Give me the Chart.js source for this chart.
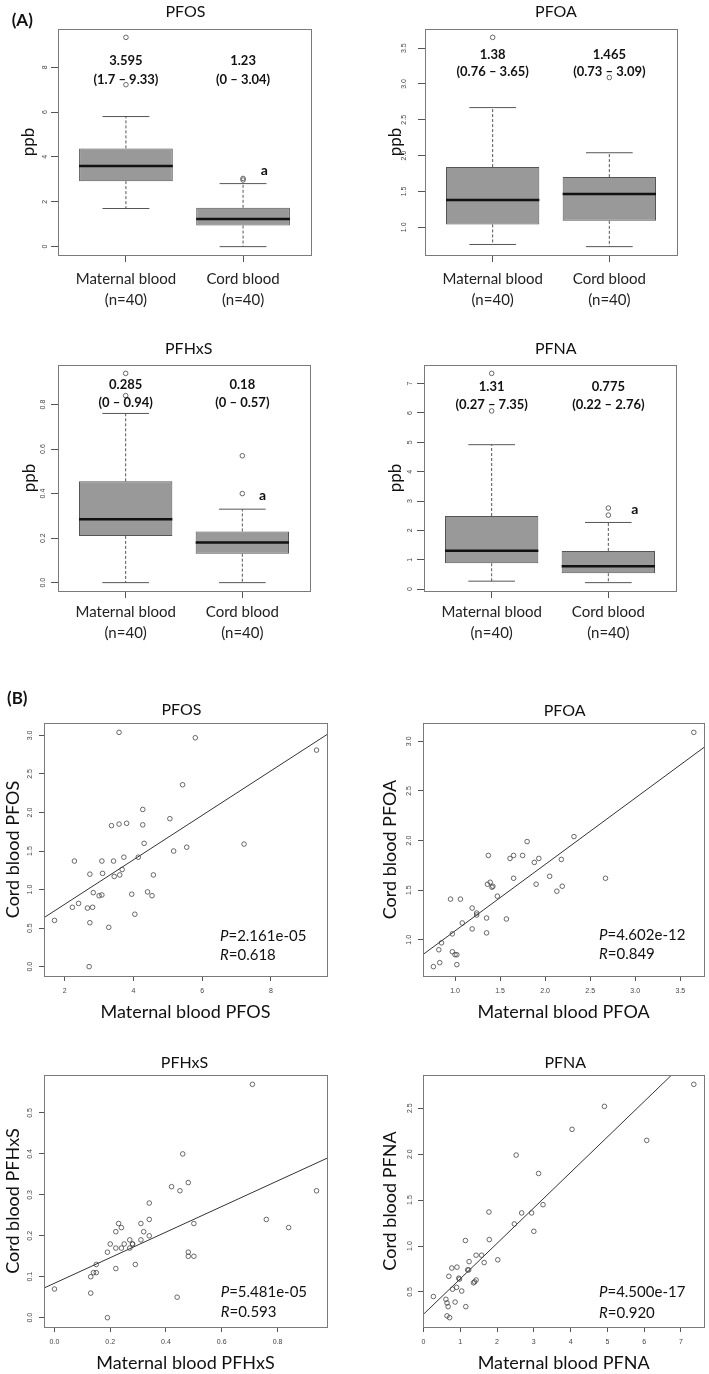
<!DOCTYPE html>
<html>
<head>
<meta charset="utf-8">
<script src="https://cdn.jsdelivr.net/npm/chart.js@4.4.1/dist/chart.umd.min.js"></script>
<style>
  body { margin: 0; background: #fff; }
  #page { position: relative; width: 709px; height: 1374px; overflow: hidden; }
  #page canvas { position: absolute; }
</style>
</head>
<body>
<div id="page">
  <canvas id="boxPfos"></canvas>
  <canvas id="boxPfoa"></canvas>
  <canvas id="boxPfhxs"></canvas>
  <canvas id="boxPfna"></canvas>
  <canvas id="corPfos"></canvas>
  <canvas id="corPfoa"></canvas>
  <canvas id="corPfhxs"></canvas>
  <canvas id="corPfna"></canvas>
</div>
<script>
// groups of the box plots
const groups = ['Maternal blood', 'Cord blood'];
const groupN = [40, 40];

// box stats: [lower whisker, Q1, median, Q3, upper whisker], ppb
const pfosMaternalBox = [1.7, 2.92, 3.595, 4.38, 5.8];
const pfosCordBox = [0, 0.94, 1.23, 1.73, 2.81];
const pfosMaternalOut = [7.22, 9.33];
const pfosCordOut = [2.97, 3.04];

const pfoaMaternalBox = [0.76, 1.04, 1.38, 1.84, 2.67];
const pfoaCordBox = [0.73, 1.09, 1.465, 1.7, 2.04];
const pfoaMaternalOut = [3.65];
const pfoaCordOut = [3.09];

const pfhxsMaternalBox = [0, 0.21, 0.285, 0.455, 0.76];
const pfhxsCordBox = [0, 0.13, 0.18, 0.23, 0.33];
const pfhxsMaternalOut = [0.84, 0.94];
const pfhxsCordOut = [0.4, 0.57];

const pfnaMaternalBox = [0.27, 0.88, 1.31, 2.49, 4.92];
const pfnaCordBox = [0.22, 0.54, 0.775, 1.3, 2.27];
const pfnaMaternalOut = [6.07, 7.35];
const pfnaCordOut = [2.52, 2.76];

// paired samples (maternal / cord), ppb
const pfosMaternal = [1.7, 2.28, 2.22, 2.4, 2.73, 2.66, 2.81, 2.83, 2.73, 2.71, 3.0, 3.08, 3.08, 3.1, 3.28, 3.36, 3.42, 3.44, 3.58, 3.58,
  3.6, 3.67, 3.72, 3.8, 3.95, 4.04, 4.14, 4.27, 4.27, 4.31, 4.41, 4.54, 4.58, 5.06, 5.17, 5.43, 5.55, 5.8, 7.22, 9.33];
const pfosCord = [0.6, 1.37, 0.77, 0.82, 1.2, 0.76, 0.77, 0.96, 0.57, 0, 0.92, 0.93, 1.37, 1.21, 0.51, 1.83, 1.37, 1.17, 1.85, 3.04,
  1.19, 1.26, 1.42, 1.86, 0.94, 0.68, 1.42, 2.04, 1.84, 1.6, 0.97, 0.92, 1.19, 1.92, 1.5, 2.36, 1.55, 2.97, 1.59, 2.81];

const pfoaMaternal = [0.76, 0.83, 0.82, 0.85, 0.95, 0.97, 0.97, 1.0, 1.02, 1.02, 1.06, 1.08, 1.19, 1.19, 1.24, 1.24, 1.35, 1.35, 1.36, 1.37,
  1.39, 1.41, 1.42, 1.47, 1.57, 1.61, 1.65, 1.65, 1.75, 1.8, 1.88, 1.9, 1.93, 2.05, 2.13, 2.18, 2.19, 2.32, 2.67, 3.65];
const pfoaCord = [0.73, 0.77, 0.9, 0.97, 1.41, 1.06, 0.88, 0.85, 0.85, 0.75, 1.41, 1.17, 1.32, 1.11, 1.27, 1.25, 1.22, 1.07, 1.56, 1.85,
  1.58, 1.53, 1.54, 1.44, 1.21, 1.82, 1.85, 1.62, 1.85, 1.99, 1.78, 1.56, 1.82, 1.64, 1.49, 1.81, 1.54, 2.04, 1.62, 3.09];

const pfhxsMaternal = [0, 0.13, 0.13, 0.14, 0.15, 0.15, 0.19, 0.19, 0.2, 0.22, 0.22, 0.22, 0.23, 0.24, 0.24, 0.25, 0.27, 0.27, 0.28, 0.28,
  0.29, 0.31, 0.31, 0.32, 0.34, 0.34, 0.34, 0.42, 0.44, 0.45, 0.46, 0.48, 0.48, 0.48, 0.5, 0.5, 0.71, 0.76, 0.84, 0.94];
const pfhxsCord = [0.07, 0.06, 0.1, 0.11, 0.11, 0.13, 0.16, 0, 0.18, 0.21, 0.17, 0.12, 0.23, 0.22, 0.17, 0.18, 0.19, 0.17, 0.18, 0.18,
  0.13, 0.23, 0.19, 0.21, 0.28, 0.24, 0.2, 0.32, 0.05, 0.31, 0.4, 0.33, 0.16, 0.15, 0.23, 0.15, 0.57, 0.24, 0.22, 0.31];

const pfnaMaternal = [0.27, 0.61, 0.64, 0.67, 0.64, 0.71, 0.69, 0.77, 0.79, 0.86, 0.9, 0.91, 0.96, 0.98, 1.04, 1.14, 1.15, 1.2, 1.23, 1.24,
  1.36, 1.39, 1.43, 1.43, 1.58, 1.65, 1.78, 1.79, 2.02, 2.47, 2.52, 2.67, 2.94, 3.0, 3.13, 3.25, 4.04, 4.92, 6.07, 7.35];
const pfnaCord = [0.45, 0.42, 0.38, 0.34, 0.24, 0.22, 0.67, 0.76, 0.53, 0.39, 0.55, 0.77, 0.65, 0.64, 0.51, 1.06, 0.34, 0.74, 0.74, 0.83,
  0.6, 0.61, 0.63, 0.9, 0.9, 0.82, 1.37, 1.07, 0.85, 1.24, 1.99, 1.36, 1.36, 1.16, 1.79, 1.45, 2.27, 2.52, 2.15, 2.76];

// linear fits [intercept, slope] and test results [P, R]
const pfosFit = [0.233, 0.2884];
const pfoaFit = [0.421, 0.669];
const pfhxsFit = [0.0841, 0.3124];
const pfnaFit = [0.257, 0.386];
const pfosTest = ['2.161e-05', '0.618'];
const pfoaTest = ['4.602e-12', '0.849'];
const pfhxsTest = ['5.481e-05', '0.593'];
const pfnaTest = ['4.500e-17', '0.920'];

Chart.defaults.font.family = 'Lato';
Chart.defaults.color = '#222';
Chart.defaults.animation = false;
Chart.defaults.events = [];
Chart.defaults.plugins.legend.display = false;
Chart.defaults.plugins.tooltip.enabled = false;

const notesById = {};

// R style frame around the plot region
const framePlugin = {
  id: 'frame',
  afterDatasetsDraw(chart) {
    const {ctx, chartArea: a} = chart;
    const l = Math.round(a.left), t = Math.round(a.top);
    ctx.save();
    ctx.strokeStyle = '#7a7a7a';
    ctx.lineWidth = 1;
    ctx.strokeRect(l + 0.5, t + 0.5, Math.round(a.right) - l, Math.round(a.bottom) - t);
    ctx.restore();
  }
};

// extra texts: titles, medians, p values
const notesPlugin = {
  id: 'notes',
  afterDraw(chart) {
    const items = notesById[chart.canvas.id] || [];
    const {ctx, chartArea: a} = chart;
    ctx.save();
    ctx.textBaseline = 'middle';
    ctx.fillStyle = '#111';
    items.forEach(it => {
      let x, y;
      if (it.ref === 'canvas') {
        x = it.x; y = it.y;
      } else {
        y = a.top + it.y;
        if (it.ref === 'center') x = (a.left + a.right) / 2 + it.x;
        else if (it.ref === 'data') x = chart.scales.x.getPixelForValue(it.xv);
        else x = a.left + it.x;
      }
      const segs = Array.isArray(it.t) ? it.t : [[it.t, it.font]];
      let total = 0;
      segs.forEach(s => { ctx.font = s[1]; total += ctx.measureText(s[0]).width; });
      let cx = it.align === 'left' ? x : x - total / 2;
      ctx.textAlign = 'left';
      segs.forEach(s => {
        ctx.font = s[1];
        ctx.fillText(s[0], cx, y);
        cx += ctx.measureText(s[0]).width;
      });
    });
    ctx.restore();
  }
};
Chart.register(framePlugin, notesPlugin);

function rRange(values) {
  const lo = Math.min(...values), hi = Math.max(...values);
  const pad = (hi - lo) * 0.04;
  return [lo - pad, hi + pad];
}

function place(id, g) {
  const c = document.getElementById(id);
  c.width = g.w;
  c.height = g.h;
  c.style.left = g.left + 'px';
  c.style.top = g.top + 'px';
  c.style.width = g.w + 'px';
  c.style.height = g.h + 'px';
  return c;
}

function yAxis(range, step, digits, g, tl, title) {
  return {
    type: 'linear',
    position: 'left',
    min: range[0],
    max: range[1],
    afterFit: s => { s.width = g.yw; },
    border: {display: false},
    grid: {drawOnChartArea: false, tickLength: tl, tickColor: '#555'},
    ticks: {
      stepSize: step, includeBounds: false, autoSkip: false,
      minRotation: 90, maxRotation: 90, crossAlign: 'center',
      padding: g.ytp, color: '#444',
      font: {family: 'Liberation Sans', size: 7},
      callback: v => v.toFixed(digits)
    },
    title: {
      display: true, text: title, color: '#111',
      font: {family: 'Lato', size: title === 'ppb' ? 17 : 18, lineHeight: 1.2},
      padding: {top: g.ttlPad, bottom: 0}
    }
  };
}

function boxChart(id, name, boxes, outs, g) {
  const canvas = place(id, g);
  const yr = rRange(boxes.flatMap(b => [b[0], b[4]]).concat(...outs));
  const xr = rRange([0.5, groups.length + 0.5]);

  const whiskers = [], caps = [], medians = [], outliers = [];
  boxes.forEach((b, i) => {
    const x = i + 1;
    whiskers.push({x, y: b[3]}, {x, y: b[4]}, {x, y: null}, {x, y: b[1]}, {x, y: b[0]}, {x, y: null});
    caps.push({x: x - 0.2, y: b[4]}, {x: x + 0.2, y: b[4]}, {x: x + 0.2, y: null},
              {x: x - 0.2, y: b[0]}, {x: x + 0.2, y: b[0]}, {x: x + 0.2, y: null});
    medians.push({x: x - 0.4, y: b[2]}, {x: x + 0.4, y: b[2]}, {x: x + 0.4, y: null});
    outs[i].forEach(v => outliers.push({x, y: v}));
  });

  const notes = [{t: name, font: '16px Lato', ref: 'center', x: g.titleDx, y: g.titleDy}];
  boxes.forEach((b, i) => {
    const lo = Math.min(b[0], ...outs[i]);
    const hi = Math.max(b[4], ...outs[i]);
    notes.push({t: String(b[2]), font: 'bold 13px Lato', ref: 'data', xv: i + 1, y: g.medDy});
    notes.push({t: '(' + lo + ' \u2013 ' + hi + ')', font: 'bold 13px Lato', ref: 'data', xv: i + 1, y: g.rangeDy});
  });
  if (g.mark) notes.push({t: 'a', font: 'bold 14px Lato', x: g.mark[0], y: g.mark[1]});
  if (g.letter) notes.push({t: g.letter[0], font: 'bold 17px Lato', ref: 'canvas', x: g.letter[1], y: g.letter[2], align: 'left'});
  notesById[id] = notes;

  const line = {type: 'line', pointRadius: 0, fill: false, tension: 0, borderColor: '#555', borderWidth: 1};
  new Chart(canvas, {
    type: 'bar',
    data: {
      datasets: [
        Object.assign({}, line, {data: medians, borderColor: '#111', borderWidth: 2.5, order: 0}),
        Object.assign({}, line, {data: whiskers, borderDash: [3, 2], order: 1}),
        Object.assign({}, line, {data: caps, order: 1}),
        {type: 'scatter', data: outliers, pointRadius: 2.3, borderColor: '#444', borderWidth: 0.8,
         backgroundColor: 'rgba(0,0,0,0)', order: 0},
        {type: 'bar', data: boxes.map((b, i) => ({x: i + 1, y: [b[1], b[3]]})),
         backgroundColor: '#999999', borderColor: '#555', borderWidth: 1, borderSkipped: false,
         categoryPercentage: 0.8, barPercentage: 1, order: 5}
      ]
    },
    options: {
      responsive: false,
      devicePixelRatio: 1,
      layout: {padding: {left: 0, top: g.pt, right: g.pr, bottom: 0}},
      scales: {
        x: {
          type: 'linear', offset: false, min: xr[0], max: xr[1],
          afterFit: s => { s.height = g.xh; },
          border: {display: false},
          grid: {offset: false, drawOnChartArea: false, tickLength: 7, tickColor: '#555'},
          ticks: {
            stepSize: 1, includeBounds: false, autoSkip: false, maxRotation: 0,
            padding: g.xtp, color: '#222',
            font: {family: 'Lato', size: 15, lineHeight: 1.4},
            callback: v => [groups[v - 1], '(n=' + groupN[v - 1] + ')']
          }
        },
        y: yAxis(yr, g.ys, g.yd, g, 7, 'ppb')
      }
    }
  });
}

function scatterChart(id, name, mat, cord, fit, test, g) {
  const canvas = place(id, g);
  const xr = rRange(mat), yr = rRange(cord);
  const points = mat.map((x, i) => ({x, y: cord[i]}));
  const fitLine = xr.map(x => ({x, y: fit[0] + fit[1] * x}));

  const notes = [
    {t: name, font: '16px Lato', ref: 'center', x: g.titleDx, y: g.titleDy},
    {t: [['P', 'italic 15px Lato'], ['=' + test[0], '15px Lato']], x: g.stats[0], y: g.stats[1], align: 'left'},
    {t: [['R', 'italic 15px Lato'], ['=' + test[1], '15px Lato']], x: g.stats[0], y: g.stats[2], align: 'left'}
  ];
  if (g.letter) notes.push({t: g.letter[0], font: 'bold 17px Lato', ref: 'canvas', x: g.letter[1], y: g.letter[2], align: 'left'});
  notesById[id] = notes;

  new Chart(canvas, {
    type: 'scatter',
    data: {
      datasets: [
        {data: points, pointRadius: 2.3, borderColor: '#444', borderWidth: 0.8, backgroundColor: 'rgba(0,0,0,0)'},
        {type: 'line', data: fitLine, pointRadius: 0, borderColor: '#333', borderWidth: 1, fill: false}
      ]
    },
    options: {
      responsive: false,
      devicePixelRatio: 1,
      layout: {padding: {left: 0, top: g.pt, right: g.pr, bottom: 0}},
      scales: {
        x: {
          type: 'linear', min: xr[0], max: xr[1],
          afterFit: s => { s.height = g.xh; },
          border: {display: false},
          grid: {drawOnChartArea: false, tickLength: 5, tickColor: '#555'},
          ticks: {
            stepSize: g.xs, includeBounds: false, autoSkip: false, maxRotation: 0,
            padding: 5.8, color: '#444',
            font: {family: 'Liberation Sans', size: 7},
            callback: v => v.toFixed(g.xd)
          },
          title: {
            display: true, text: 'Maternal blood ' + name, color: '#111',
            font: {family: 'Lato', size: 18, lineHeight: 1.2},
            padding: {top: 0, bottom: g.ttlPadX}
          }
        },
        y: yAxis(yr, g.ys, g.yd, g, 5, 'Cord blood ' + name)
      }
    }
  });
}

boxChart('boxPfos', 'PFOS', [pfosMaternalBox, pfosCordBox], [pfosMaternalOut, pfosCordOut],
  {left: 0, top: 0, w: 354, h: 320, yw: 58, pt: 29, pr: 43, xh: 65, ytp: 4, xtp: 6.5, ttlPad: 18.6,
   ys: 2, yd: 0, titleDx: 1, titleDy: -17.5, medDy: 32.3, rangeDy: 51, mark: [206.3, 141.3], letter: ['(A)', 11.7, 20.3]});
boxChart('boxPfoa', 'PFOA', [pfoaMaternalBox, pfoaCordBox], [pfoaMaternalOut, pfoaCordOut],
  {left: 354, top: 0, w: 355, h: 320, yw: 71, pt: 29, pr: 32, xh: 65, ytp: 9, xtp: 6.5, ttlPad: 31.5,
   ys: 0.5, yd: 1, titleDx: 5, titleDy: -17.5, medDy: 25.7, rangeDy: 43});
boxChart('boxPfhxs', 'PFHxS', [pfhxsMaternalBox, pfhxsCordBox], [pfhxsMaternalOut, pfhxsCordOut],
  {left: 0, top: 320, w: 354, h: 340, yw: 58, pt: 45, pr: 44, xh: 69, ytp: 2.8, xtp: 3.2, ttlPad: 19.8,
   ys: 0.2, yd: 1, titleDx: 4.7, titleDy: -16, medDy: 20, rangeDy: 37.5, mark: [204.5, 130.3]});
boxChart('boxPfna', 'PFNA', [pfnaMaternalBox, pfnaCordBox], [pfnaMaternalOut, pfnaCordOut],
  {left: 354, top: 320, w: 355, h: 340, yw: 70, pt: 45, pr: 33, xh: 69, ytp: 5.3, xtp: 3.2, ttlPad: 31.5,
   ys: 1, yd: 0, titleDx: 5.8, titleDy: -16, medDy: 22, rangeDy: 40, mark: [210.7, 144]});

scatterChart('corPfos', 'PFOS', pfosMaternal, pfosCord, pfosFit, pfosTest,
  {left: 0, top: 660, w: 354, h: 370, yw: 44, pt: 63, pr: 27, xh: 54, ytp: 3.7, ttlPad: 2.5, ttlPadX: 7.5,
   xs: 2, xd: 0, ys: 0.5, yd: 1, titleDx: -4, titleDy: -13, stats: [176, 213, 232.3], letter: ['(B)', 7, 38.5]});
scatterChart('corPfoa', 'PFOA', pfoaMaternal, pfoaCord, pfoaFit, pfoaTest,
  {left: 354, top: 660, w: 355, h: 370, yw: 69, pt: 63, pr: 3, xh: 54, ytp: 4.4, ttlPad: 24.9, ttlPadX: 7.5,
   xs: 0.5, xd: 1, ys: 0.5, yd: 1, titleDx: 1, titleDy: -12.5, stats: [176, 212.3, 231.6]});
scatterChart('corPfhxs', 'PFHxS', pfhxsMaternal, pfhxsCord, pfhxsFit, pfhxsTest,
  {left: 0, top: 1030, w: 354, h: 344, yw: 44, pt: 45, pr: 27, xh: 47, ytp: 3.7, ttlPad: 2.5, ttlPadX: 0,
   xs: 0.2, xd: 1, ys: 0.1, yd: 1, titleDx: -1, titleDy: -12.2, stats: [176.7, 217, 237]});
scatterChart('corPfna', 'PFNA', pfnaMaternal, pfnaCord, pfnaFit, pfnaTest,
  {left: 354, top: 1030, w: 355, h: 344, yw: 69, pt: 45, pr: 4, xh: 47, ytp: 3.4, ttlPad: 24.9, ttlPadX: 0,
   xs: 1, xd: 0, ys: 0.5, yd: 1, titleDx: 1.7, titleDy: -12.2, stats: [176, 217.3, 237.7]});
</script>
</body>
</html>
